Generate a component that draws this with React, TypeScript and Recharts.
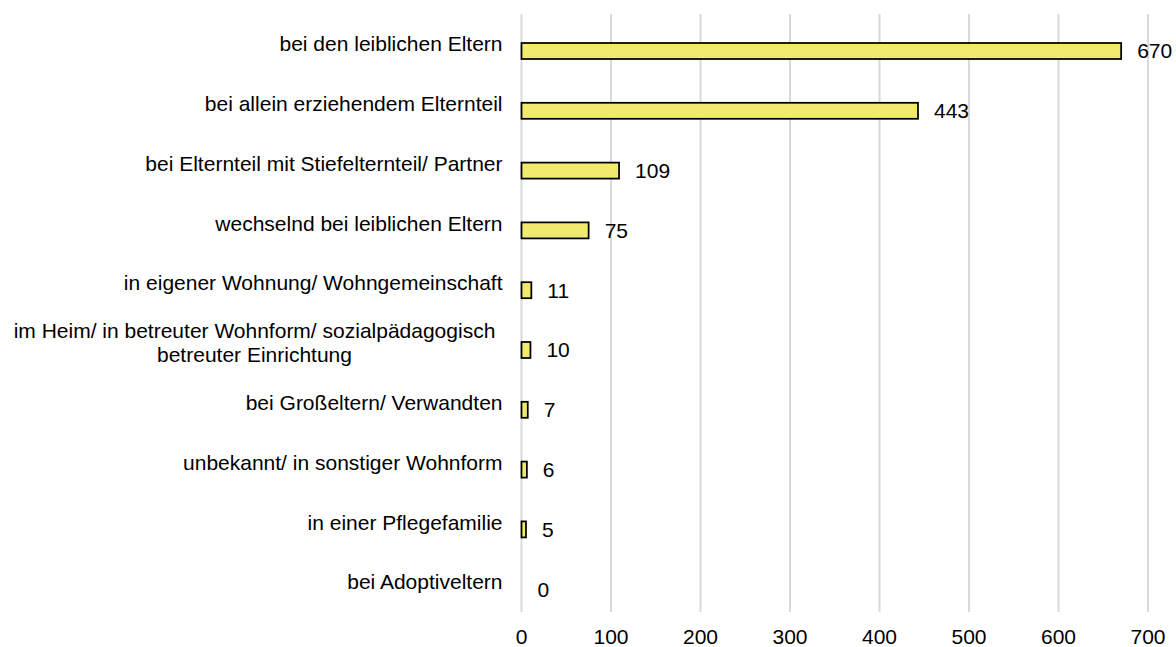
import { BarChart, Bar, XAxis, YAxis, CartesianGrid, LabelList } from "recharts";

const categories: string[] = [
  "bei den leiblichen Eltern",
  "bei allein erziehendem Elternteil",
  "bei Elternteil mit Stiefelternteil/ Partner",
  "wechselnd bei leiblichen Eltern",
  "in eigener Wohnung/ Wohngemeinschaft",
  "im Heim/ in betreuter Wohnform/ sozialpädagogisch\nbetreuter Einrichtung",
  "bei Großeltern/ Verwandten",
  "unbekannt/ in sonstiger Wohnform",
  "in einer Pflegefamilie",
  "bei Adoptiveltern",
];

const counts: number[] = [670, 443, 109, 75, 11, 10, 7, 6, 5, 0];

const xTicks: number[] = [0, 100, 200, 300, 400, 500, 600, 700];

const data = categories.map((name, i) => ({ name, value: counts[i] }));

const FONT = "'Liberation Sans', Arial, sans-serif";
const FS = 21;
const BAR_SHIFT = 7;

function CategoryTick(props: any) {
  const { x, y, payload } = props;
  const lines: string[] = String(payload.value).split("\n");
  if (lines.length === 1) {
    return (
      <text x={x} y={y} dy="0.35em" textAnchor="end" fontSize={FS} fill="#000" fontFamily={FONT}>
        {lines[0]}
      </text>
    );
  }
  const lineH = 24;
  const top = y - ((lines.length - 1) * lineH) / 2;
  return (
    <text textAnchor="middle" fontSize={FS} fill="#000" fontFamily={FONT}>
      {lines.map((l, i) => (
        <tspan key={i} x={x - 248} y={top + i * lineH} dy="0.35em">
          {l}
        </tspan>
      ))}
    </text>
  );
}

function ShiftedBar(props: any) {
  const { x, y, width, height } = props;
  if (!width || width <= 0) return <g />;
  return (
    <rect
      x={x}
      y={y + BAR_SHIFT}
      width={width}
      height={height}
      fill="#f0ea6e"
      stroke="#000"
      strokeWidth={1.75}
    />
  );
}

function ValueLabel(props: any) {
  const { x, y, width, height, value } = props;
  return (
    <text
      x={x + width + 16}
      y={y + height / 2 + BAR_SHIFT}
      dy="0.35em"
      fontSize={FS}
      fill="#000"
      fontFamily={FONT}
    >
      {value}
    </text>
  );
}

export default function App() {
  return (
    <div style={{ position: "absolute", left: 0, top: 0 }}>
      <BarChart
        width={1176}
        height={647}
        data={data}
        layout="vertical"
        margin={{ top: 14, right: 28, bottom: 0, left: 0 }}
        barSize={16}
      >
        <CartesianGrid horizontal={false} stroke="#d9d9d9" strokeWidth={2} />
        <XAxis
          type="number"
          domain={[0, 700]}
          ticks={xTicks}
          axisLine={false}
          tickLine={false}
          tickSize={0}
          tickMargin={17}
          height={35}
          interval={0}
          tick={{ fontSize: FS, fill: "#000", fontFamily: FONT }}
        />
        <YAxis
          type="category"
          dataKey="name"
          width={521.5}
          axisLine={false}
          tickLine={false}
          tickSize={0}
          tickMargin={19}
          interval={0}
          tick={<CategoryTick />}
        />
        <Bar dataKey="value" isAnimationActive={false} shape={<ShiftedBar />}>
          <LabelList dataKey="value" content={<ValueLabel />} />
        </Bar>
      </BarChart>
    </div>
  );
}
